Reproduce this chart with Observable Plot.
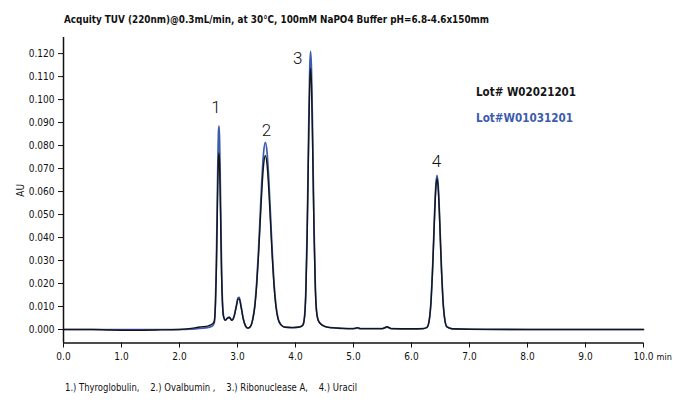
<!DOCTYPE html>
<html><head><meta charset="utf-8">
<script src="https://cdn.jsdelivr.net/npm/d3@7"></script>
<script src="https://cdn.jsdelivr.net/npm/@observablehq/plot@0.6"></script>
<style>
body{margin:0;background:#fff;}
#chart{width:673px;height:400px;overflow:hidden;}
</style></head><body><div id="chart"></div>
<script>
// retention time (min)
const times = [0.00,0.50,0.80,1.20,1.60,2.00,2.20,2.35,2.50,2.57,2.60,2.62,2.635,2.65,2.66,2.67,2.68,2.69,2.70,2.71,2.725,2.74,2.76,2.79,2.83,2.86,2.90,2.94,2.98,3.01,3.03,3.06,3.10,3.14,3.18,3.22,
3.26,3.30,3.33,3.36,3.39,3.42,3.45,3.48,3.51,3.54,3.57,3.60,3.63,3.66,3.70,3.75,3.82,3.95,4.05,4.10,
4.13,4.16,4.18,4.20,4.215,4.23,4.245,4.26,4.275,4.29,4.305,4.32,4.34,4.36,4.39,4.43,4.50,4.60,4.80,5.00,5.07,5.12,5.50,5.58,5.65,6.00,6.20,
6.27,6.31,6.34,6.36,6.38,6.40,6.42,6.44,6.46,6.48,6.50,6.52,6.54,6.57,6.61,6.70,7.00,8.00,10.00];
// absorbance, Lot# W02021201 (black)
const auW02021201 = [0,0,-0.0002,-0.0003,-0.0002,0,0.0005,0.0011,0.0016,0.0025,0.0037,0.0112,0.025,0.047,0.0627,0.0735,0.0768,0.0724,0.0607,0.0463,0.024,0.0115,0.0055,0.0040,0.0050,0.0052,0.0040,0.0055,0.0100,0.0132,0.0133,0.0100,0.0045,0.0015,0.0006,0.0012,
0.0040,0.0102,0.0189,0.0311,0.0459,0.0606,0.0716,0.0757,0.0716,0.0606,0.0459,0.0311,0.0189,0.0105,0.0045,0.0020,0.0010,0.0008,0.0010,0.0014,
0.0020,0.0065,0.0175,0.0395,0.0625,0.0870,0.1062,0.1135,0.1065,0.0880,0.0640,0.0415,0.0195,0.0085,0.0040,0.0025,0.0014,0.0008,0.0005,0.0004,0.0008,0.0004,0.0004,0.0012,0.0004,0.0003,0.0004,
0.0010,0.0047,0.0135,0.0239,0.0370,0.0509,0.0616,0.0656,0.0616,0.0510,0.0372,0.0241,0.0137,0.0050,0.0012,0.0003,0.0001,0,0];
// absorbance, Lot#W01031201 (blue)
const auW01031201 = [0,0,0,0,0,0,0.0002,0.0005,0.0009,0.0016,0.0030,0.012,0.028,0.054,0.0715,0.0846,0.0886,0.0836,0.0700,0.0533,0.0275,0.0130,0.0058,0.0041,0.0051,0.0054,0.0041,0.0057,0.0104,0.0138,0.0140,0.0104,0.0047,0.0015,0.0006,0.0012,
0.0042,0.0110,0.0203,0.0334,0.0493,0.0651,0.0770,0.0814,0.0770,0.0651,0.0493,0.0334,0.0203,0.0113,0.0048,0.0021,0.0010,0.0008,0.0010,0.0014,
0.0021,0.0069,0.0186,0.0421,0.0666,0.0927,0.1132,0.1210,0.1135,0.0938,0.0682,0.0442,0.0208,0.0091,0.0042,0.0026,0.0014,0.0008,0.0005,0.0004,0.0006,0.0004,0.0004,0.0010,0.0004,0.0003,0.0004,
0.0010,0.0048,0.0138,0.0244,0.0378,0.0520,0.0629,0.0670,0.0629,0.0521,0.0380,0.0246,0.0140,0.0051,0.0012,0.0003,0.0001,0,0];

const xTicks = [0,1,2,3,4,5,6,7,8,9,10];
const yTicks = [0,0.01,0.02,0.03,0.04,0.05,0.06,0.07,0.08,0.09,0.10,0.11,0.12];
const peakLabels = ["1","2","3","4"];
const peakLabelT = [2.63, 3.50, 4.04, 6.43];
const peakLabelAU = [0.0967, 0.0865, 0.118, 0.073];
const seriesNames = ["Lot# W02021201", "Lot#W01031201"];
const seriesColors = ["#151515", "#3b5bae"];
const titleText = "Acquity TUV (220nm)@0.3mL/min, at 30°C, 100mM NaPO4 Buffer pH=6.8-4.6x150mm";
const captionText = "1.) Thyroglobulin,    2.) Ovalbumin ,    3.) Ribonuclease A,    4.) Uracil";

const yMin = -0.00587, yMax = 0.127;
const FONT = "'Liberation Sans Narrow','DejaVu Sans Condensed','Roboto Condensed','Liberation Sans',sans-serif";

const rowsBlack = times.map((t, i) => ({t, au: auW02021201[i]}));
const rowsBlue = times.map((t, i) => ({t, au: auW01031201[i]}));
const peaks = peakLabels.map((s, i) => ({s, t: peakLabelT[i], au: peakLabelAU[i]}));

const svg = Plot.plot({
  width: 673,
  height: 400,
  marginLeft: 63,
  marginRight: 30,
  marginTop: 37,
  marginBottom: 57.5,
  style: {fontFamily: FONT, fontSize: "10px", color: "#111", background: "#fff"},
  x: {domain: [0, 10]},
  y: {domain: [yMin, yMax]},
  marks: [
    Plot.line(rowsBlue, {x: "t", y: "au", stroke: seriesColors[1], strokeWidth: 1.7, curve: "monotone-x"}),
    Plot.line(rowsBlack, {x: "t", y: "au", stroke: seriesColors[0], strokeWidth: 1.4, curve: "monotone-x"}),
    Plot.ruleX([0], {stroke: "#111", strokeWidth: 1.5}),
    Plot.ruleY([yMin], {stroke: "#111", strokeWidth: 1.5}),
    Plot.axisX({ticks: xTicks, tickFormat: d3.format(".1f"), tickSize: 5, tickPadding: 5, label: null, stroke: "#111", fontSize: 10}),
    Plot.axisY({ticks: yTicks, tickFormat: d3.format(".3f"), tickSize: 5, tickPadding: 4, label: "AU", labelAnchor: "center", labelArrow: "none", labelOffset: 47, stroke: "#111", fontSize: 10}),
    Plot.text(peaks, {x: "t", y: "au", text: "s", fontSize: 17, fill: "#111", fontFamily: "Roboto, sans-serif", fontWeight: 300}),
    Plot.text([10], {x: d => d, y: () => yMin, text: () => "min", dx: 13, dy: 14.5, textAnchor: "start", fontSize: 9, fill: "#111"})
  ]
});
document.getElementById("chart").appendChild(svg);

const s = d3.select(svg);
s.append("text").attr("x", 64).attr("y", 23).attr("text-anchor", "start").attr("font-weight", "bold").attr("font-size", 10.5)
  .attr("fill", "#111").attr("textLength", 425).attr("lengthAdjust", "spacingAndGlyphs").text(titleText);
s.append("text").attr("x", 476).attr("y", 95.5).attr("text-anchor", "start").attr("font-weight", "bold").attr("font-size", 12.5)
  .attr("fill", seriesColors[0]).attr("textLength", 100).attr("lengthAdjust", "spacingAndGlyphs").text(seriesNames[0]);
s.append("text").attr("x", 476).attr("y", 122).attr("text-anchor", "start").attr("font-weight", "bold").attr("font-size", 12.5)
  .attr("fill", seriesColors[1]).attr("textLength", 97).attr("lengthAdjust", "spacingAndGlyphs").text(seriesNames[1]);
s.append("text").attr("x", 65).attr("y", 391).attr("text-anchor", "start").attr("font-size", 10).attr("fill", "#111")
  .attr("xml:space", "preserve").style("white-space", "pre")
  .attr("textLength", 292).attr("lengthAdjust", "spacingAndGlyphs").text(captionText);
</script></body></html>
